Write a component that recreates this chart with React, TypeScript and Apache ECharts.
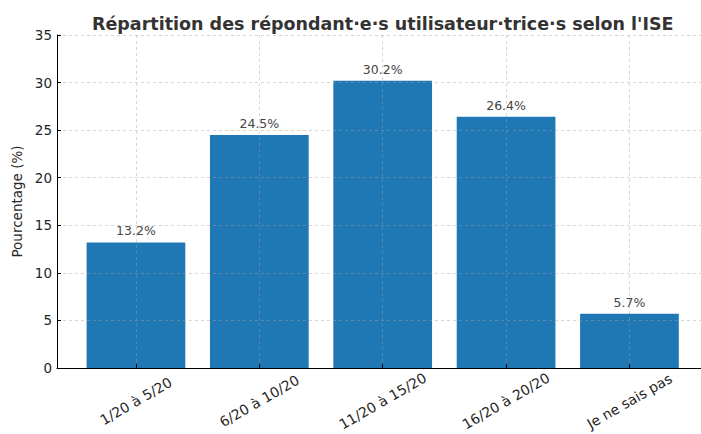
import React, { useEffect, useRef } from "react";
import * as echarts from "echarts";

const categories = ["1/20 à 5/20", "6/20 à 10/20", "11/20 à 15/20", "16/20 à 20/20", "Je ne sais pas"];
const percentages = [13.2, 24.5, 30.2, 26.4, 5.7];
const yTicks = { min: 0, max: 35, interval: 5 };
const titleText = "Répartition des répondant·e·s utilisateur·trice·s selon l'ISE";
const yAxisName = "Pourcentage (%)";

const FONT = "DejaVu Sans";

export default function App() {
  const ref = useRef<HTMLDivElement>(null);
  useEffect(() => {
    if (!ref.current) return;
    const chart = echarts.init(ref.current, undefined, { renderer: "svg" });
    const idx = categories.map((_, i) => i);
    const gridLeft = 57;
    const gridWidth = 701 - gridLeft;
    const xMin = -0.64;
    const xMax = categories.length - 1 + 0.58;
    const unit = gridWidth / (xMax - xMin);
    const gridLine = { type: [3, 3] as any, color: "rgba(160,160,160,0.55)", width: 0.8 };
    chart.setOption({
      animation: false,
      backgroundColor: "#ffffff",
      textStyle: { fontFamily: FONT },
      title: {
        text: titleText,
        left: 87,
        top: 10,
        textStyle: { fontFamily: FONT, fontSize: 17.5, fontWeight: "bold", color: "#333333" },
      },
      grid: { left: gridLeft, right: 0, top: 35, bottom: 66, containLabel: false },
      xAxis: {
        type: "value",
        min: xMin,
        max: xMax,
        z: 3,
        axisLine: { show: true, onZero: false, lineStyle: { color: "#000", width: 1 } },
        axisTick: { show: true, inside: true, length: 4, customValues: idx, lineStyle: { color: "#000" } },
        axisLabel: {
          customValues: idx,
          formatter: (v: number) => categories[Math.round(v)] ?? "",
          rotate: 30,
          align: "center",
          verticalAlign: "middle",
          margin: 33,
          fontSize: 14,
          color: "#262626",
          fontFamily: FONT,
        },
        splitLine: { show: true, customValues: idx, lineStyle: gridLine },
      },
      yAxis: {
        type: "value",
        min: yTicks.min,
        max: yTicks.max,
        interval: yTicks.interval,
        z: 3,
        name: yAxisName,
        nameLocation: "middle",
        nameGap: 27,
        nameTextStyle: { fontSize: 13.5, color: "#262626", fontFamily: FONT },
        axisLine: { show: true, onZero: false, lineStyle: { color: "#000", width: 1 } },
        axisTick: { show: true, inside: true, length: 4, lineStyle: { color: "#000" } },
        axisLabel: { fontSize: 13.5, color: "#262626", margin: 5, fontFamily: FONT },
        splitLine: { show: true, lineStyle: gridLine },
      },
      series: [
        {
          type: "bar",
          z: 2,
          barWidth: unit * 0.8,
          data: percentages.map((v, i) => [i, v]),
          itemStyle: { color: "#1f77b4" },
          label: {
            show: true,
            position: "top",
            distance: 5,
            fontSize: 12.5,
            color: "#444444",
            fontFamily: FONT,
            formatter: (p: any) => p.value[1].toFixed(1) + "%",
          },
        },
      ],
    });
    return () => chart.dispose();
  }, []);
  return (
    <div
      ref={ref}
      style={{ position: "fixed", left: 0, top: 0, width: 701, height: 434 }}
    />
  );
}
